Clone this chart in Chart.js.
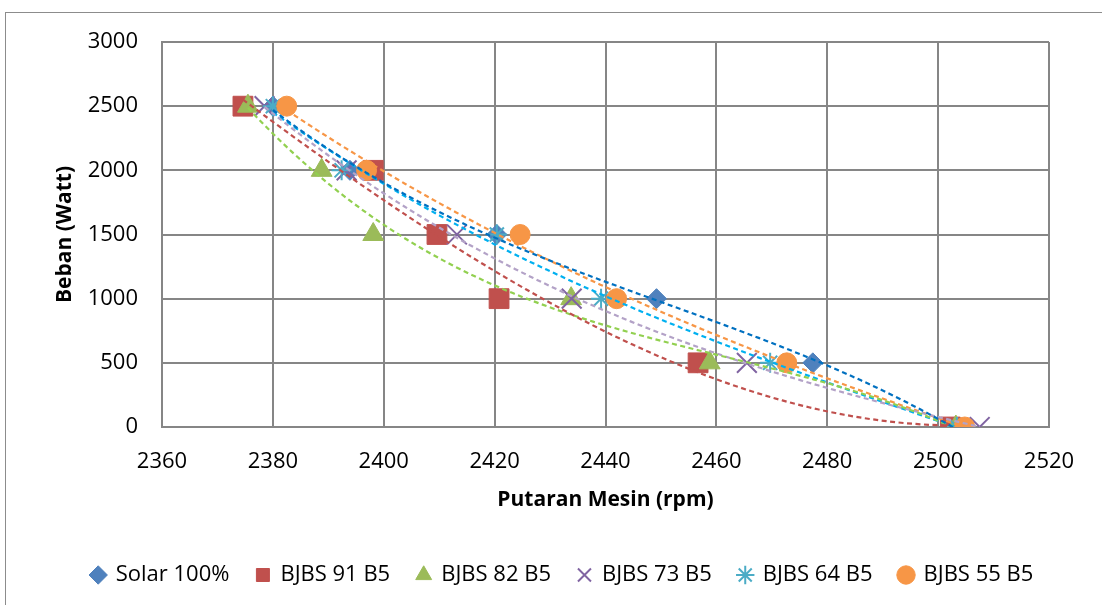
<!DOCTYPE html>
<html>
<head>
<meta charset="utf-8">
<script src="https://cdn.jsdelivr.net/npm/chart.js@4/dist/chart.umd.min.js"></script>
<style>
  html, body { margin: 0; padding: 0; background: #ffffff; }
  #wrap { width: 1102px; height: 605px; }
</style>
</head>
<body>
<div id="wrap"><canvas id="c" width="1102" height="605"></canvas></div>
<script>
// ---- data ----
const loads = [2500, 2000, 1500, 1000, 500, 0];           // Beban (Watt)
const seriesNames = ["Solar 100%", "BJBS 91 B5", "BJBS 82 B5", "BJBS 73 B5", "BJBS 64 B5", "BJBS 55 B5"];
const rpmSolar100 = [2380.0, 2393.9, 2420.4, 2449.2, 2477.4, 2503.0];
const rpmBJBS91   = [2374.6, 2398.1, 2409.6, 2420.8, 2456.7, 2502.2];
const rpmBJBS82   = [2375.5, 2388.8, 2398.1, 2433.8, 2458.8, 2503.2];
const rpmBJBS73   = [2378.5, 2393.3, 2413.2, 2433.9, 2465.5, 2507.5];
const rpmBJBS64   = [2380.0, 2392.4, 2420.4, 2439.2, 2469.7, 2503.4];
const rpmBJBS55   = [2382.5, 2396.9, 2424.6, 2442.0, 2472.7, 2504.8];
const xTickValues = [2360, 2380, 2400, 2420, 2440, 2460, 2480, 2500, 2520];
const yTickValues = [0, 500, 1000, 1500, 2000, 2500, 3000];

// ---- styling ----
const rpmSeries = [rpmSolar100, rpmBJBS91, rpmBJBS82, rpmBJBS73, rpmBJBS64, rpmBJBS55];
const markerColors = ["#4F81BD", "#C0504D", "#9BBB59", "#8064A2", "#4BACC6", "#F79646"];
const trendColors  = ["#0070C0", "#C0504D", "#92D050", "#B3A2C7", "#00B0F0", "#F79646"];
const markerStyles = ["rectRot", "rect", "triangle", "crossRot", "star", "circle"];
const markerRadius = [10, 14, 12, 14, 10, 10];
const TREND_ORDER = 3;
const FONT = "'Open Sans', 'Liberation Sans', sans-serif";

// polynomial least-squares trendline (spreadsheet-style), fitted to the data above
function polyTrend(xs, ys, order) {
  const n = xs.length, m = order + 1;
  const mx = xs.reduce((a, b) => a + b, 0) / n;
  const sc = 50;
  const M = [];
  for (let r = 0; r < m; r++) { M.push(new Array(m + 1).fill(0)); }
  for (let i = 0; i < n; i++) {
    const u = (xs[i] - mx) / sc;
    for (let r = 0; r < m; r++) {
      for (let c = 0; c < m; c++) M[r][c] += Math.pow(u, r + c);
      M[r][m] += Math.pow(u, r) * ys[i];
    }
  }
  for (let c = 0; c < m; c++) {
    for (let r = c + 1; r < m; r++) {
      const f = M[r][c] / M[c][c];
      for (let k = c; k <= m; k++) M[r][k] -= f * M[c][k];
    }
  }
  const coef = new Array(m).fill(0);
  for (let r = m - 1; r >= 0; r--) {
    let v = M[r][m];
    for (let k = r + 1; k < m; k++) v -= M[r][k] * coef[k];
    coef[r] = v / M[r][r];
  }
  const lo = Math.min(...xs), hi = Math.max(...xs);
  const pts = [];
  const steps = 80;
  for (let i = 0; i <= steps; i++) {
    const x = lo + (hi - lo) * i / steps;
    const u = (x - mx) / sc;
    let y = 0;
    for (let k = 0; k < m; k++) y += coef[k] * Math.pow(u, k);
    pts.push({ x: x, y: y });
  }
  return pts;
}

const datasets = [];
rpmSeries.forEach((rpms, i) => {
  datasets.push({
    label: seriesNames[i] + " trend",
    isTrend: true,
    type: "line",
    data: polyTrend(rpms, loads, TREND_ORDER),
    borderColor: trendColors[i],
    borderWidth: 2.2,
    borderDash: [5, 3.5],
    pointRadius: 0,
    fill: false,
    tension: 0,
    order: 0
  });
});
rpmSeries.forEach((rpms, i) => {
  const filled = !(markerStyles[i] === "crossRot" || markerStyles[i] === "star");
  datasets.push({
    label: seriesNames[i],
    type: "scatter",
    data: rpms.map((r, k) => ({ x: r, y: loads[k] })),
    pointStyle: markerStyles[i],
    pointRadius: markerRadius[i],
    pointHoverRadius: markerRadius[i],
    backgroundColor: markerColors[i],
    borderColor: markerColors[i],
    pointBorderWidth: filled ? 1 : 2,
    borderWidth: filled ? 1 : 2,
    showLine: false,
    order: 20 - i
  });
});

const framePlugin = {
  id: "frame",
  beforeDraw(chart) {
    const ctx = chart.ctx;
    ctx.save();
    ctx.fillStyle = "#ffffff";
    ctx.fillRect(0, 0, chart.width, chart.height);
    ctx.strokeStyle = "#8c8c8c";
    ctx.lineWidth = 1;
    ctx.strokeRect(5.5, 12.5, 1300, 800);
    ctx.restore();
  },
  afterLayout(chart) {
    // centre the legend on the full figure width, as in the reference
    const lg = chart.legend;
    if (lg) { lg.left += 38; lg.right += 38; }
  }
};

new Chart(document.getElementById("c"), {
  type: "scatter",
  data: { datasets },
  plugins: [framePlugin],
  options: {
    responsive: false,
    animation: false,
    devicePixelRatio: 1,
    layout: { padding: { top: 42, right: 53, bottom: 9, left: 0 } },
    plugins: {
      tooltip: { enabled: false },
      legend: {
        position: "bottom",
        labels: {
          usePointStyle: true,
          boxWidth: 13,
          boxHeight: 13,
          padding: 27,
          color: "#000000",
          font: { family: FONT, size: 22 },
          filter: (item, data) => !data.datasets[item.datasetIndex].isTrend,
          sort: (a, b) => a.datasetIndex - b.datasetIndex
        }
      }
    },
    scales: {
      x: {
        type: "linear",
        position: "bottom",
        min: 2360,
        max: 2520,
        afterBuildTicks: s => { s.ticks = xTickValues.map(v => ({ value: v })); },
        afterFit: s => { s.height = 110; },
        ticks: {
          padding: 22,
          color: "#000000",
          font: { family: FONT, size: 22 },
          callback: v => String(v),
          maxRotation: 0,
          autoSkip: false
        },
        grid: { color: "#868686", lineWidth: 2, drawTicks: false },
        border: { color: "#868686", width: 2 },
        title: {
          display: true,
          text: "Putaran Mesin (rpm)",
          color: "#000000",
          font: { family: FONT, size: 21, weight: "bold" },
          padding: { top: 0, bottom: 24 }
        }
      },
      y: {
        type: "linear",
        min: 0,
        max: 3000,
        afterBuildTicks: s => { s.ticks = yTickValues.map(v => ({ value: v })); },
        afterFit: s => { s.width = 162; },
        ticks: {
          padding: 24,
          color: "#000000",
          font: { family: FONT, size: 22 },
          callback: v => String(v)
        },
        grid: { color: "#868686", lineWidth: 2, drawTicks: false },
        border: { color: "#868686", width: 2 },
        title: {
          display: true,
          text: "Beban (Watt)",
          color: "#000000",
          font: { family: FONT, size: 21, weight: "bold" },
          padding: { top: 52, bottom: 0 }
        }
      }
    }
  }
});
</script>
</body>
</html>
